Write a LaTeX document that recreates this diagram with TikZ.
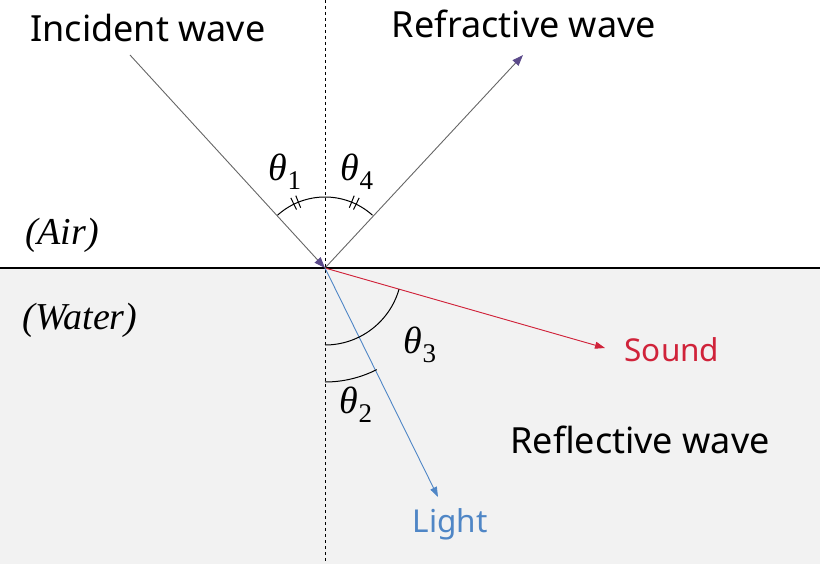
\documentclass[tikz,border=0pt]{standalone}
\usepackage{fontspec}
\setmainfont{Noto Sans}
\newfontfamily\thfont{Liberation Serif}
\usetikzlibrary{arrows.meta}
\definecolor{arrp}{HTML}{5B4A8A}
\definecolor{snd}{HTML}{D0233A}
\definecolor{lgt}{HTML}{4F86C6}
\newcommand{\myth}[1]{{\itshape θ}\raisebox{-9pt}{\fontsize{27}{30}\selectfont #1}}
\tikzset{
 lbl/.style={font=\fontsize{24}{28}\selectfont, scale=1.5},
 small/.style={font=\fontsize{21}{24}\selectfont, scale=1.5},
 th/.style={inner sep=1pt, font=\thfont\fontsize{38}{42}\selectfont},
 ray/.style={draw=gray!80!black, line width=0.9pt},
 tip/.style={-{Triangle[length=11pt,width=8pt,fill=arrp,color=arrp]}}
}
\begin{document}
\begin{tikzpicture}[x=1pt,y=-1pt]
\useasboundingbox (0,0) rectangle (820,564);
\fill[black!5] (0,268) rectangle (820,564);
\coordinate (O) at (325,268);
\coordinate (I) at (130,55);
\coordinate (R) at (523,55);
\coordinate (S) at (605,348);
\coordinate (L) at (438,497);
\coordinate (T) at (325,0);
\coordinate (B) at (325,564);
\draw[dashed, line width=0.8pt] (T) -- (B);
\draw[line width=1.5pt] (0,268) -- (820,268);
\draw[ray,tip] (I) -- (O);
\draw[ray,tip] (O) -- (R);
\draw[snd,line width=0.9pt,-{Triangle[length=10pt,width=7pt]}] (O) -- (S);
\draw[lgt,line width=0.9pt,-{Triangle[length=10pt,width=7pt]}] (O) -- (L);
\draw[line width=1pt] ([shift={(-132:71)}]O) arc[start angle=-132,end angle=-48,radius=71];
\draw[line width=1pt] ([shift={(-112:65)}]O) -- ([shift={(-112:78)}]O);
\draw[line width=1pt] ([shift={(-116:65)}]O) -- ([shift={(-116:78)}]O);
\draw[line width=1pt] ([shift={(-64:65)}]O) -- ([shift={(-64:78)}]O);
\draw[line width=1pt] ([shift={(-68:65)}]O) -- ([shift={(-68:78)}]O);
\draw[line width=1pt] ([shift={(90:77)}]O) arc[start angle=90,end angle=16,radius=77];
\draw[line width=1pt] ([shift={(90:114)}]O) arc[start angle=90,end angle=63,radius=114];
\node[th] (t1) at (285,172) {\myth{1}};
\node[th] (t4) at (357,172) {\myth{4}};
\node[th] (t3) at (420,345) {\myth{3}};
\node[th] (t2) at (356,405) {\myth{2}};
\node[th] (air) at (62,235) {\itshape (Air)};
\node[th] (wat) at (80,320) {\itshape (Water)};
\node[lbl] (inc) at (148,28) {Incident wave};
\node[lbl] (ref) at (524,24) {Refractive wave};
\node[lbl] (rfl) at (640,440) {Reflective wave};
\node[small,text=snd] (snl) at (672,350) {Sound};
\node[small,text=lgt] (lgl) at (450,524) {Light};
\end{tikzpicture}
\end{document}
